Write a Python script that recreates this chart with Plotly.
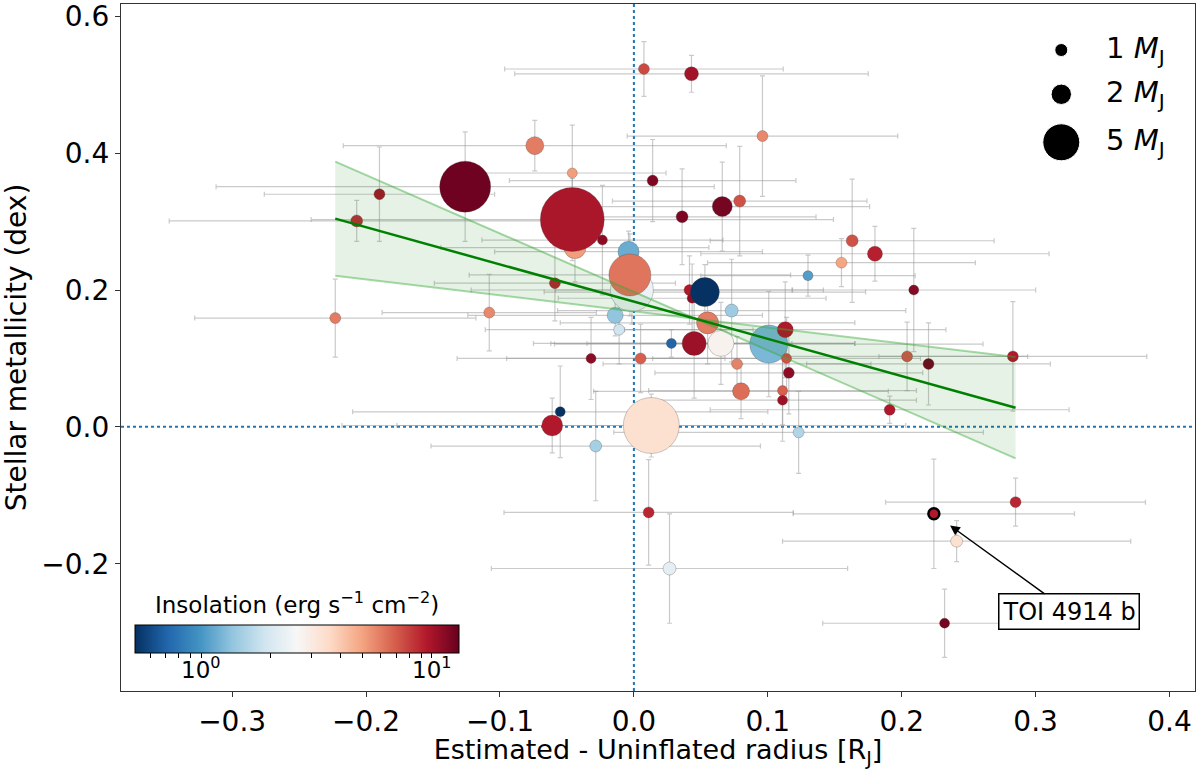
import numpy as np
import plotly.graph_objects as go

# Hot Jupiters: radius anomaly vs host-star metallicity
radius_diff = [0.013, -0.0015, -0.004, -0.003, -0.044, -0.046, -0.126, 0.0075, 0.043, 0.096,
               -0.074, -0.046, 0.014, -0.19, -0.207, -0.0235, 0.036, 0.066, 0.079, -0.059,
               -0.014, -0.011, 0.0415, 0.0435, 0.053, 0.073, 0.055, 0.045, 0.065, 0.028,
               0.1007, 0.113, 0.13, 0.077, 0.08, 0.114, 0.1157, 0.111, 0.111, -0.032,
               0.005, -0.055, -0.061, -0.0285, -0.223, -0.108, 0.163, 0.18, 0.155, 0.209,
               0.204, 0.22, 0.283, 0.191, 0.123, 0.011, 0.0266, 0.224, 0.285, 0.241, 0.232]
metallicity = [0.002, 0.200, 0.256, 0.222, 0.262, 0.303, 0.351, 0.523, 0.516, 0.425,
               0.411, 0.371, 0.360, 0.340, 0.301, 0.273, 0.307, 0.322, 0.330, 0.210,
               0.163, 0.142, 0.200, 0.188, 0.197, 0.170, 0.152, 0.122, 0.122, 0.122,
               0.121, 0.142, 0.221, 0.092, 0.052, 0.100, 0.079, 0.053, 0.039, 0.100,
               0.100, 0.022, 0.002, -0.028, 0.159, 0.167, 0.272, 0.253, 0.240, 0.200,
               0.103, 0.092, 0.103, 0.025, -0.008, -0.125, -0.207, -0.127, -0.110, -0.167, -0.287]
radius_err = [0.19, 0.12, 0.10, 0.12, 0.10, 0.195, 0.186, 0.104, 0.132, 0.101,
              0.143, 0.07, 0.107, 0.086, 0.14, 0.09, 0.10, 0.11, 0.095, 0.09,
              0.11, 0.10, 0.10, 0.10, 0.12, 0.13, 0.11, 0.12, 0.10, 0.09,
              0.16, 0.12, 0.08, 0.10, 0.11, 0.10, 0.10, 0.10, 0.10, 0.10,
              0.10, 0.155, 0.157, 0.123, 0.105, 0.08, 0.106, 0.13, 0.10, 0.091,
              0.09, 0.091, 0.10, 0.134, 0.138, 0.108, 0.133, 0.105, 0.097, 0.13, 0.091]
metallicity_err = [0.046, 0.05, 0.03, 0.06, 0.05, 0.06, 0.08, 0.04, 0.027, 0.088,
                   0.037, 0.07, 0.06, 0.069, 0.03, 0.08, 0.07, 0.065, 0.08, 0.055,
                   0.03, 0.05, 0.05, 0.05, 0.04, 0.075, 0.06, 0.08, 0.06, 0.02,
                   0.077, 0.07, 0.03, 0.04, 0.04, 0.06, 0.06, 0.05, 0.06, 0.06,
                   0.05, 0.067, 0.04, 0.08, 0.057, 0.056, 0.09, 0.04, 0.035, 0.09,
                   0.05, 0.06, 0.08, 0.02, 0.06, 0.077, 0.08, 0.08, 0.035, 0.03, 0.05]
mass_mj = [9.45, 6.30, 2.09, 6.07, 2.25, 11.6, 8.18, 0.77, 1.12, 0.77,
           1.65, 0.67, 0.77, 0.77, 0.88, 0.67, 0.88, 1.94, 0.88, 0.77,
           1.38, 0.77, 0.77, 0.67, 3.43, 1.0, 2.25, 2.57, 2.90, 0.67,
           5.21, 1.38, 0.67, 0.77, 1.51, 0.67, 0.77, 0.67, 0.67, 0.67,
           0.77, 0.67, 2.09, 0.88, 0.77, 0.77, 0.88, 1.25, 0.77, 0.67,
           0.77, 0.77, 0.77, 0.77, 0.77, 0.77, 1.0, 0.77, 0.77, 0.88, 0.67]
insolation = [3.37, 2.36, 1.16, 6.22, 5.13, 9.8, 12.7, 7.55, 10.1, 5.65,
              6.03, 5.13, 11.9, 9.8, 8.6, 11.1, 11.9, 12.3, 7.31, 8.89,
              1.36, 1.88, 9.48, 11.1, 0.52, 1.45, 6.03, 10.4, 2.77, 0.71,
              1.24, 9.48, 1.05, 5.83, 6.43, 7.31, 11.1, 6.85, 10.4, 11.1,
              6.85, 0.52, 9.48, 1.5, 6.03, 5.65, 7.31, 9.18, 4.96, 11.5,
              7.08, 12.3, 9.48, 9.48, 1.6, 8.89, 2.21, 9.48, 8.89, 3.37, 12.3]
toi_index = 57
toi_name = "TOI 4914 b"

# linear fit: slope with 1-sigma range, pivoting at the data centroid
fit_slope = -0.544
fit_slope_err = 0.31
fit_pivot = (0.046, 0.158)

legend_masses = [1, 2, 5]
insol_range = [0.516, 13.1]
cbar_ticks = [0.6, 0.7, 0.8, 0.9, 1, 2, 3, 4, 5, 6, 7, 8, 9, 10]
cbar_labels = {1: "10<sup>0</sup>", 10: "10<sup>1</sup>"}

RDBU_R = ['#053061', '#2166ac', '#4393c3', '#92c5de', '#d1e5f0', '#f7f7f7',
          '#fddbc7', '#f4a582', '#d6604d', '#b2182b', '#67001f']
colorscale = [[i / 10, c] for i, c in enumerate(RDBU_R)]
FONT = "DejaVu Sans"

# plot area in pixels (figure 1200 x 769)
W, H = 1200, 769
M = dict(l=121, r=5, t=4, b=78)
PW = W - M['l'] - M['r']
PH = H - M['t'] - M['b']
CB_LEFT, CB_LEN, CB_BOTTOM = 135, 324, 653  # colour bar, px from figure top-left


def marker_px(m):
    return 13 * np.asarray(m, dtype=float) ** 0.65


x = np.array(radius_diff)
y = np.array(metallicity)
logs = np.log10(insolation)
sizes = marker_px(mass_mj)
cmin, cmax = np.log10(insol_range[0]), np.log10(insol_range[1])

fig = go.Figure()

# error bars underneath everything
fig.add_trace(go.Scatter(
    x=x, y=y, mode='markers', marker=dict(size=1, opacity=0),
    error_x=dict(type='data', array=radius_err, color='rgba(150,150,150,0.5)', thickness=1.2, width=2.5),
    error_y=dict(type='data', array=metallicity_err, color='rgba(150,150,150,0.5)', thickness=1.2, width=2.5),
    hoverinfo='skip'))

fig.add_trace(go.Scatter(
    x=x, y=y, mode='markers',
    marker=dict(size=sizes, color=logs, colorscale=colorscale, cmin=cmin, cmax=cmax, opacity=1,
                line=dict(color='rgba(60,60,60,0.45)', width=0.6),
                showscale=True,
                colorbar=dict(orientation='h', x=(CB_LEFT - M['l']) / PW, xanchor='left',
                              y=(H - M['b'] - CB_BOTTOM - 6) / PH, yanchor='bottom',
                              xpad=0, ypad=0, len=CB_LEN, lenmode='pixels', thickness=28,
                              outlinecolor='black', outlinewidth=1,
                              ticks='outside', ticklen=5, tickcolor='black',
                              tickvals=np.log10(cbar_ticks), showticklabels=False)),
    hoverinfo='skip'))

# colour bar title and labels
cb_frac = lambda v: (CB_LEFT + (np.log10(v) - cmin) / (cmax - cmin) * CB_LEN - M['l']) / PW
fig.add_annotation(x=cb_frac(np.sqrt(insol_range[0] * insol_range[1])), y=(H - M['b'] - 603) / PH,
                   xref='paper', yref='paper', xanchor='center', yanchor='middle', showarrow=False,
                   text='Insolation (erg s<sup>−1</sup> cm<sup>−2</sup>)',
                   font=dict(family=FONT, size=23, color='black'))
for v, lab in cbar_labels.items():
    fig.add_annotation(x=cb_frac(v), y=(H - M['b'] - 668) / PH, xref='paper', yref='paper',
                       xanchor='center', yanchor='middle', showarrow=False, text=lab,
                       font=dict(family=FONT, size=23, color='black'))

# highlighted planet
fig.add_trace(go.Scatter(
    x=[x[toi_index]], y=[y[toi_index]], mode='markers',
    marker=dict(size=sizes[toi_index], color=[logs[toi_index]], colorscale=colorscale,
                cmin=cmin, cmax=cmax, opacity=1, line=dict(color='black', width=2.5)),
    hoverinfo='skip'))

# fit line and bow-tie uncertainty band
xf = np.linspace(x.min(), x.max(), 200)
px0, py0 = fit_pivot
y_mid = py0 + fit_slope * (xf - px0)
y_a = py0 + (fit_slope - fit_slope_err) * (xf - px0)
y_b = py0 + (fit_slope + fit_slope_err) * (xf - px0)
upper = np.maximum(y_a, y_b)
lower = np.minimum(y_a, y_b)
fig.add_trace(go.Scatter(x=np.concatenate([xf, xf[::-1]]), y=np.concatenate([upper, lower[::-1]]),
                         fill='toself', fillcolor='rgba(0,128,0,0.1)', line=dict(width=0),
                         mode='lines', hoverinfo='skip'))
for edge in (y_a, y_b):
    fig.add_trace(go.Scatter(x=xf, y=edge, mode='lines', line=dict(color='rgba(60,170,60,0.45)', width=2),
                             hoverinfo='skip'))
fig.add_trace(go.Scatter(x=xf, y=y_mid, mode='lines', line=dict(color='green', width=2.5), hoverinfo='skip'))

# mass legend on an overlay axis in plot-fraction units
leg_y = [0.933, 0.8686, 0.7987]
fig.add_trace(go.Scatter(x=[0.8755] * 3, y=leg_y, mode='markers', xaxis='x2', yaxis='y2',
                         marker=dict(size=marker_px(legend_masses), color='black', opacity=1),
                         hoverinfo='skip'))
for m, ly in zip(legend_masses, leg_y):
    fig.add_annotation(x=0.915, y=ly, xref='paper', yref='paper', xanchor='left', yanchor='middle',
                       text=f"{m} <i>M</i><sub>J</sub>", showarrow=False,
                       font=dict(family=FONT, size=29, color='black'))

fig.add_annotation(x=x[toi_index], y=y[toi_index], ax=0.325, ay=-0.27, axref='x', ayref='y',
                   text=toi_name, showarrow=True, arrowhead=2, arrowsize=1.3, arrowwidth=1.5,
                   arrowcolor='black', standoff=20,
                   bgcolor='white', bordercolor='black', borderwidth=1.5, borderpad=3,
                   font=dict(family=FONT, size=24, color='black'))

fig.add_shape(type='line', x0=0, x1=0, xref='x', y0=0, y1=1, yref='paper',
              line=dict(color='#1f77b4', width=2, dash='dot'), layer='below')
fig.add_shape(type='line', x0=0, x1=1, xref='paper', y0=0, y1=0, yref='y',
              line=dict(color='#1f77b4', width=2, dash='dot'), layer='below')

axis_style = dict(showline=True, mirror=True, linecolor='#333', linewidth=1.3,
                  ticks='outside', ticklen=5, tickwidth=1.2, tickcolor='#333',
                  showgrid=False, zeroline=False, automargin=False,
                  tickfont=dict(family=FONT, size=28, color='black'))

fig.update_layout(
    width=W, height=H,
    margin=dict(**M, autoexpand=False),
    plot_bgcolor='white', paper_bgcolor='white',
    showlegend=False,
    font=dict(family=FONT, color='black'),
    xaxis=dict(range=[-0.383, 0.419], dtick=0.1, tick0=0, tickformat='.1f',
               title=dict(text='Estimated - Uninflated radius [R<sub>J</sub>]',
                          font=dict(family=FONT, size=27), standoff=7),
               **axis_style),
    yaxis=dict(range=[-0.386, 0.618], dtick=0.2, tick0=0, tickformat='.1f',
               title=dict(text='Stellar metallicity (dex)', font=dict(family=FONT, size=28), standoff=8),
               **axis_style),
    xaxis2=dict(overlaying='x', range=[0, 1], visible=False),
    yaxis2=dict(overlaying='y', range=[0, 1], visible=False),
)

# page body margin would shift the fixed-size figure by 8px
fig.write_html("out.html", config={'displayModeBar': False},
               post_script="document.body.style.margin='0';")
